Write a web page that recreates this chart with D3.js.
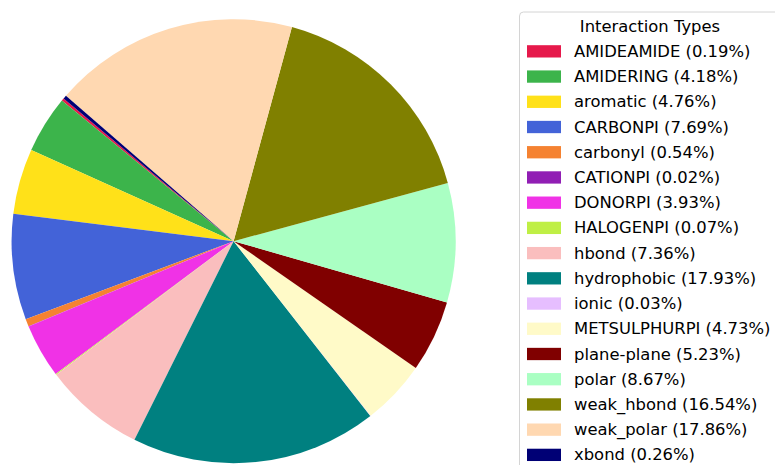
<!DOCTYPE html>
<html>
<head>
<meta charset="utf-8">
<script src="https://cdn.jsdelivr.net/npm/d3@7"></script>
<style>
  html, body { margin: 0; padding: 0; background: #fff; }
  svg { display: block; font-family: "DejaVu Sans", sans-serif; }
</style>
</head>
<body>
<svg id="chart" width="775" height="465"></svg>
<script>
// Interaction type shares (percent of all contacts)
const categories = [
  "AMIDEAMIDE", "AMIDERING", "aromatic", "CARBONPI", "carbonyl", "CATIONPI",
  "DONORPI", "HALOGENPI", "hbond", "hydrophobic", "ionic", "METSULPHURPI",
  "plane-plane", "polar", "weak_hbond", "weak_polar", "xbond"
];
const percentages = [
  0.19, 4.18, 4.76, 7.69, 0.54, 0.02,
  3.93, 0.07, 7.36, 17.93, 0.03, 4.73,
  5.23, 8.67, 16.54, 17.86, 0.26
];
const colors = [
  "#e6194b", "#3cb44b", "#ffe119", "#4363d8", "#f58231", "#911eb4",
  "#f032e6", "#bfef45", "#fabebe", "#008080", "#e6beff", "#fffac8",
  "#800000", "#aaffc3", "#808000", "#ffd8b1", "#000075"
];
const legendTitle = "Interaction Types";

const data = categories.map((c, i) => ({ name: c, value: percentages[i], color: colors[i] }));

const svg = d3.select("#chart");

// Pie: first wedge starts at 140° (counter-clockwise from east) and wedges run counter-clockwise
const cx = 233.6, cy = 241.2, radius = 222;
const deg = Math.PI / 180;
const start = (90 - 140) * deg;
const pie = d3.pie().sort(null).value(d => d.value)
  .startAngle(start).endAngle(start - 2 * Math.PI);
const arc = d3.arc().innerRadius(0).outerRadius(radius);

svg.append("g")
  .attr("transform", `translate(${cx},${cy})`)
  .selectAll("path")
  .data(pie(data))
  .join("path")
  .attr("d", arc)
  .attr("fill", d => d.data.color);

// Legend
const lx = 519.5, ly = 12, rowH = 25.22, firstRow = 51.4;
const legend = svg.append("g");
legend.append("rect")
  .attr("x", lx).attr("y", ly)
  .attr("width", 290).attr("height", 470)
  .attr("rx", 4).attr("ry", 4)
  .attr("fill", "#fff").attr("fill-opacity", 0.8)
  .attr("stroke", "#d4d4d4").attr("stroke-width", 1);

legend.append("text")
  .attr("x", 650).attr("y", 26)
  .attr("text-anchor", "middle").attr("dominant-baseline", "central")
  .attr("font-size", "16.4px").attr("fill", "#000")
  .text(legendTitle);

const rows = legend.selectAll("g.row")
  .data(data)
  .join("g")
  .attr("class", "row")
  .attr("transform", (d, i) => `translate(0,${firstRow + i * rowH})`);

rows.append("rect")
  .attr("x", 527).attr("y", -6.2)
  .attr("width", 34).attr("height", 12.3)
  .attr("fill", d => d.color);

rows.append("text")
  .attr("x", 574).attr("y", 0)
  .attr("dominant-baseline", "central")
  .attr("font-size", "16.4px").attr("fill", "#000")
  .text(d => `${d.name} (${d.value.toFixed(2)}%)`);
</script>
</body>
</html>
